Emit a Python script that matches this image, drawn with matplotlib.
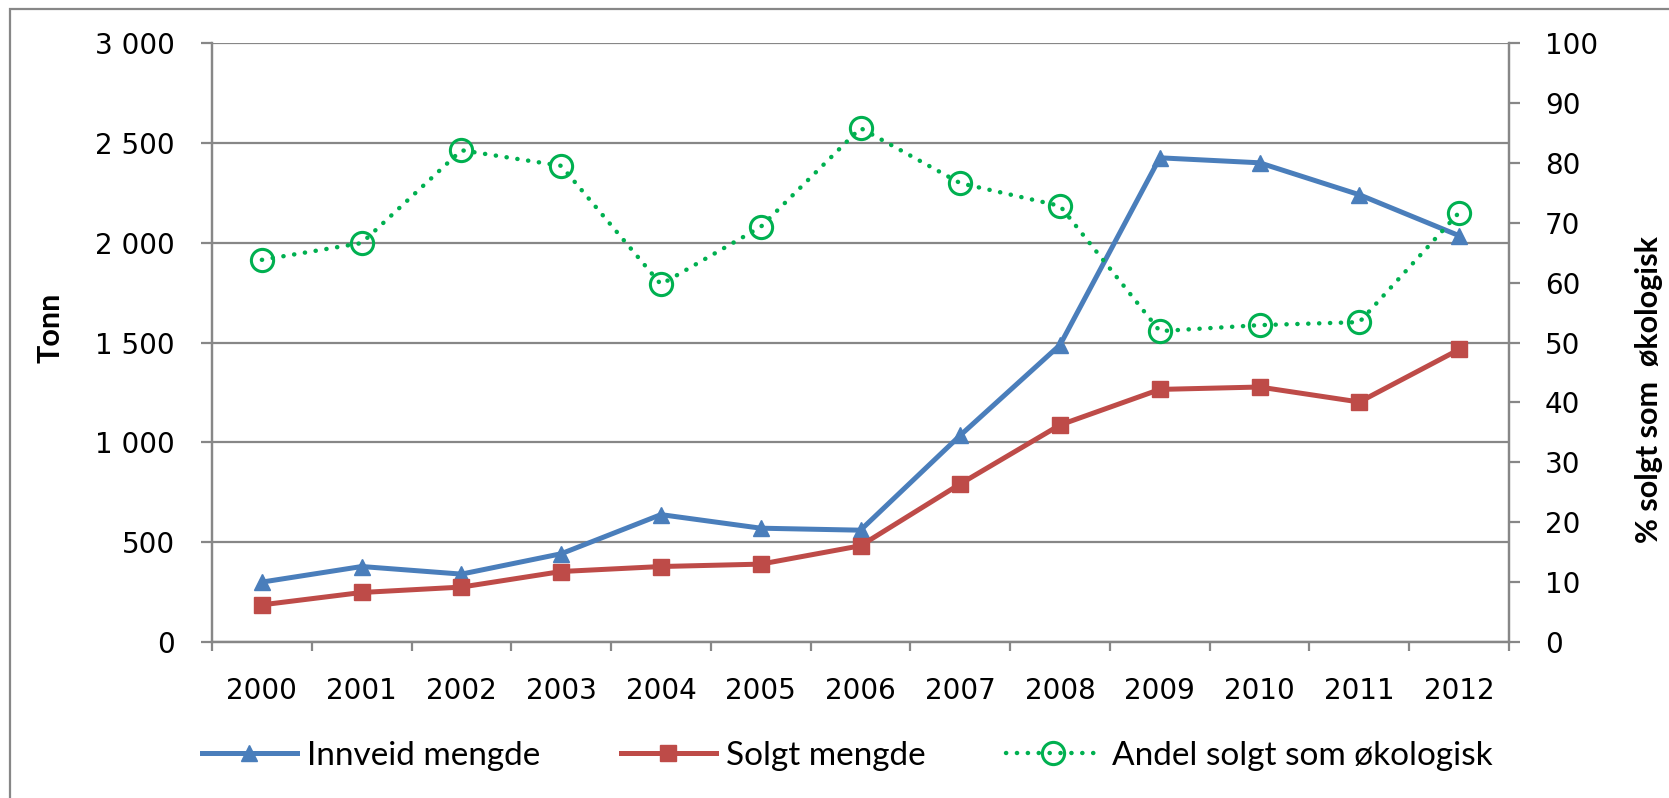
import numpy as np
import matplotlib.pyplot as plt
from matplotlib.patches import Rectangle
from matplotlib.ticker import FuncFormatter

# data
years = ['2000', '2001', '2002', '2003', '2004', '2005', '2006',
         '2007', '2008', '2009', '2010', '2011', '2012']
innveid = [300, 378, 340, 442, 638, 570, 560, 1035, 1488, 2425, 2400, 2240, 2035]
solgt = [186, 248, 275, 353, 378, 390, 482, 792, 1087, 1265, 1277, 1202, 1465]
andel = [63.8, 66.6, 82.1, 79.5, 59.7, 69.3, 85.8, 76.6, 72.8, 51.9, 52.9, 53.4, 71.7]

blue = '#4A7EBB'
red = '#BE4B48'
green = '#00B050'
grey = '#878787'

fig = plt.figure(figsize=(16.69, 7.98), dpi=100)
ax = fig.add_axes([212 / 1669, 156 / 798, (1509 - 212) / 1669, (642 - 43) / 798])
ax2 = ax.twinx()

x = np.arange(len(years))

l1, = ax.plot(x, innveid, color=blue, lw=3.6, marker='^', ms=12,
              mfc=blue, mec=blue, label='Innveid mengde', zorder=3)
l2, = ax.plot(x, solgt, color=red, lw=3.6, marker='s', ms=11.5,
              mfc=red, mec=red, label='Solgt mengde', zorder=3)
l3, = ax2.plot(x, andel, color=green, lw=3.2, ls=(0, (0.05, 2.4)),
               dash_capstyle='round', marker='o', ms=16, mfc='none',
               mec=green, mew=2.2, label='Andel solgt som økologisk')

ax.set_xlim(-0.5, len(years) - 0.5)
ax.set_ylim(0, 3000)
ax2.set_ylim(0, 100)

ax.set_yticks(np.arange(0, 3001, 500))
ax.yaxis.set_major_formatter(FuncFormatter(lambda v, p: f'{int(v):,}'.replace(',', ' ')))
ax2.set_yticks(np.arange(0, 101, 10))

ax.set_xticks(x)
ax.set_xticklabels(years)
ax.set_xticks(np.arange(-0.5, len(years), 1), minor=True)

ax.grid(axis='y', color=grey, lw=1.6, zorder=0)
ax.set_axisbelow(True)

for a in (ax, ax2):
    for s in a.spines.values():
        s.set_color(grey)
        s.set_linewidth(1.6)
ax2.spines['top'].set_visible(False)
ax.spines['top'].set_visible(False)

ax.tick_params(axis='y', direction='out', length=8, width=1.6, color=grey,
               pad=19, labelsize=20)
ax.tick_params(axis='x', which='major', length=0, pad=25, labelsize=20)
ax.tick_params(axis='x', which='minor', direction='out', length=6.5,
               width=1.6, color=grey)
ax2.tick_params(axis='y', direction='out', length=8, width=1.6, color=grey,
                pad=18, labelsize=20)

fig.text(50 / 1669, 1 - 328 / 798, 'Tonn', rotation=90, ha='center', va='center',
         fontsize=22, fontweight='bold', family='Lato')
fig.text(1649 / 1669, 1 - 390 / 798, '% solgt som  økologisk', rotation=90,
         ha='center', va='center', fontsize=22, fontweight='bold', family='Lato')

fig.legend(handles=[l1, l2, l3], loc='center', ncol=3, frameon=False,
           bbox_to_anchor=(0.5075, 1 - 756 / 798), prop={'family': 'Lato', 'size': 24},
           handlelength=2.85, columnspacing=2.4, handletextpad=0.32)

fig.add_artist(Rectangle((10 / 1669, -0.1), 1.2, 1.1 - 9 / 798, transform=fig.transFigure,
                         fill=False, edgecolor=grey, lw=1.6, clip_on=False))

fig.savefig('out.png', dpi=100)
